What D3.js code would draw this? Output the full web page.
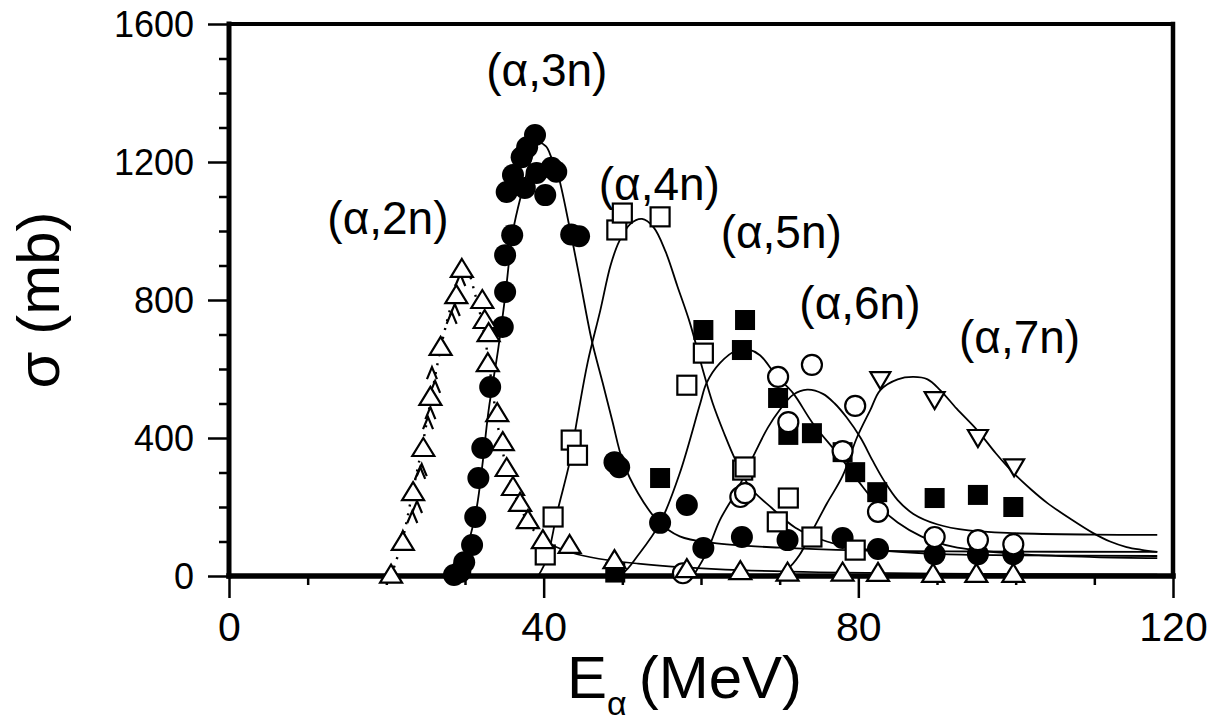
<!DOCTYPE html>
<html>
<head>
<meta charset="utf-8">
<script src="https://cdn.jsdelivr.net/npm/d3@7/dist/d3.min.js"></script>
<style>
  html, body { margin: 0; padding: 0; background: #fff; }
  svg { display: block; }
  text { font-family: "Liberation Sans", Arial, sans-serif; fill: #000; }
</style>
</head>
<body>
<svg id="chart" width="1217" height="727"></svg>
<script>
// Excitation functions for (α,xn) reactions: cross section σ (mb) vs alpha energy E (MeV)

// Measured points [E, σ] for each exit channel
const pts2n = [[20.6,4],[22.1,99],[23.4,243],[24.7,371],[25.6,519],[26.9,664],[28.9,814],[29.6,890],
  [32.2,800],[32.5,742],[33.0,704],[32.9,617],[34.1,472],[34.8,388],[35.3,313],[36.1,258],[37.0,212],
  [38.0,162],[39.9,104],[43.3,90],[49.0,46],[58.2,20],[65.0,14],[71.0,10],[78.0,10],[82.5,9],
  [89.5,6],[95.0,6],[99.7,6]];
// Second (α,2n) data set, small caret symbols on the rising edge
const pts2nSmall = [[29.4,858],[28.7,771],[28.3,748],[25.8,588],[26.2,548],[25.6,472],[25.3,443],
  [24.3,299],[24.5,307],[23.9,200],[23.3,171],[22.1,113]];
const pts3n = [[28.6,3],[29.4,12],[29.9,40],[30.9,90],[31.3,171],[31.7,284],[32.2,371],[33.2,548],
  [34.8,722],[35.1,823],[35.1,930],[36.0,988],[35.3,1113],[36.1,1162],[37.2,1214],[37.6,1125],
  [37.9,1243],[38.9,1278],[39.1,1168],[40.2,1104],[41.0,1183],[41.6,1172],[43.5,990],[44.5,985],
  [49.0,330],[49.6,315],[54.8,154],[58.2,206],[60.3,81],[65.2,113],[71.0,104],[78.0,110],
  [82.5,78],[89.7,63],[95.2,63],[99.7,63]];
const pts4n = [[40.2,61],[41.2,171],[43.5,394],[44.3,350],[49.3,1003],[50.0,1052],[54.8,1041],
  [58.2,553],[60.3,646],[65.3,307],[65.6,316],[69.7,157],[71.1,226],[74.1,113],[79.6,75]];
const pts5n = [[49.1,10],[54.8,284],[60.3,713],[65.6,742],[65.2,655],[69.8,516],[71.1,409],
  [74.1,414],[78.0,359],[79.6,301],[82.4,243],[89.7,226],[95.2,235],[99.7,200]];
const pts6n = [[57.7,8],[65.0,229],[65.6,240],[69.8,577],[71.1,446],[74.1,612],[78.0,362],
  [79.6,493],[82.5,186],[89.7,113],[95.2,104],[99.7,92]];
const pts7n = [[82.8,568],[89.7,510],[95.2,400],[99.8,315]];

// Calculated excitation functions [E, σ]
const calc2n = [[20.6,0],[22,100],[23.3,240],[24.6,380],[25.8,530],[27,670],[28.3,790],[29.4,875],
  [30.3,880],[31.3,815],[32.3,720],[33.2,590],[34,460],[34.8,360],[35.7,280],[36.7,215],[37.8,165],
  [39.2,120],[41,90],[43.5,68],[47,50],[52,36],[58,25],[65,17],[75,11],[90,7],[118,4]];
const calc3n = [[28.3,0],[29.5,30],[30.5,100],[31.5,200],[32.2,320],[33,480],[34.2,655],[35.1,809],
  [36.1,1000],[37.2,1110],[38.3,1200],[39.4,1255],[40.3,1245],[41,1212],[41.8,1165],[43.3,1010],
  [44.6,860],[46.1,684],[47.5,560],[48.7,452],[50.1,330],[52,240],[54.5,160],[57.3,115],
  [61.5,96],[70,82],[80,74],[95,71],[118,70]];
const calc4n = [[39.3,0],[40.4,50],[41.7,183],[43.3,330],[44.3,460],[45.6,620],[47.2,770],
  [48.5,900],[49.6,970],[51,1020],[52.5,1035],[54,1010],[55.5,940],[57,840],[58.6,733],
  [60.2,600],[61.5,500],[63,410],[64.3,340],[66.2,258],[69,197],[72,140],[76,100],[80,80],
  [90,64],[100,60],[118,58]];
const calc5n = [[48.5,0],[50.1,9],[52,60],[54.8,154],[57.3,298],[59.9,500],[60.7,559],[62.4,617],
  [64.6,655],[66,657],[67.5,640],[69.7,577],[71.7,530],[74.2,443],[77.7,345],[80,275],[82.5,205],
  [85,155],[88,115],[92,85],[100,64],[110,55],[118,52]];
const calc6n = [[59,0],[60.7,67],[62.4,162],[64.6,249],[66.9,359],[68.5,430],[70,481],[71.7,525],
  [73.5,540],[75.5,528],[77,500],[78.5,460],[80.3,400],[81.8,335],[83.3,275],[85,220],[87,180],
  [90,150],[94,132],[100,124],[110,120],[118,119]];
const calc7n = [[69.5,0],[71,20],[72.5,60],[74.2,133],[76,210],[78,290],[79.8,400],[81.5,480],
  [82.8,539],[85,570],[87,577],[88.8,570],[90.4,539],[92.5,485],[95.1,423],[97.5,355],[99.7,299],
  [102,250],[104,212],[107,165],[109.8,125],[112,100],[114.1,84],[116,76],[118,70]];

// Reaction labels and the [E, σ] point where each one starts
const reactionLabels = ["(α,2n)", "(α,3n)", "(α,4n)", "(α,5n)", "(α,6n)", "(α,7n)"];
const labelAnchors = [[12.5,990], [32.7,1420], [47.0,1090], [62.5,950], [72.5,745], [92.8,645]];

// Axis ticks
const xMajor = [0, 40, 80, 120];
const xMinor = [10, 20, 30, 50, 60, 70, 90, 100, 110];
const yMajor = [0, 400, 800, 1200, 1600];
const yMinor = [100, 200, 300, 500, 600, 700, 900, 1000, 1100, 1300, 1400, 1500];

const svg = d3.select("#chart");
const x = d3.scaleLinear().domain([0, 120]).range([229, 1173]);
const y = d3.scaleLinear().domain([0, 1600]).range([576, 24]);

// ---- axes ----
const styleAxis = size => g => {
  g.select(".domain").remove();
  g.selectAll(".tick line").attr("stroke", "#000").attr("stroke-width", 2.5);
  g.selectAll(".tick text").style("font-size", size).attr("fill", "#000");
};
svg.append("g").attr("transform", `translate(${x(0)},0)`)
  .call(d3.axisLeft(y).tickValues(yMinor).tickSize(10).tickFormat(""))
  .call(styleAxis("36px"));
svg.append("g").attr("transform", `translate(${x(0)},0)`)
  .call(d3.axisLeft(y).tickValues(yMajor).tickSize(21).tickPadding(14).tickFormat(d3.format("d")))
  .call(styleAxis("36px"))
  .call(g => g.selectAll(".tick text").attr("dy", "0.36em"));
svg.append("g").attr("transform", `translate(0,${y(0)})`)
  .call(d3.axisBottom(x).tickValues(xMinor).tickSize(9).tickFormat(""))
  .call(styleAxis("40px"));
svg.append("g").attr("transform", `translate(0,${y(0)})`)
  .call(d3.axisBottom(x).tickValues(xMajor).tickSize(22).tickPadding(14).tickFormat(d3.format("d")))
  .call(styleAxis("41px"));

// ---- frame ----
const frame = svg.append("g").attr("stroke", "#000").attr("stroke-linecap", "square");
frame.append("line").attr("x1", x(0)).attr("x2", x(120)).attr("y1", y(1600)).attr("y2", y(1600)).attr("stroke-width", 4);
frame.append("line").attr("x1", x(0)).attr("x2", x(0)).attr("y1", y(0)).attr("y2", y(1600)).attr("stroke-width", 5);
frame.append("line").attr("x1", x(120)).attr("x2", x(120)).attr("y1", y(0)).attr("y2", y(1600)).attr("stroke-width", 4.5);
frame.append("line").attr("x1", x(0)).attr("x2", x(120)).attr("y1", y(0)).attr("y2", y(0)).attr("stroke-width", 5.5);

// ---- calculated curves ----
const line = d3.line().x(d => x(d[0])).y(d => y(d[1])).curve(d3.curveCatmullRom.alpha(0.5));
const curves = svg.append("g").attr("fill", "none").attr("stroke", "#000");
curves.append("path").datum(calc2n.filter(d => d[0] <= 41))
  .attr("d", line).attr("stroke-width", 2.4).attr("stroke-dasharray", "2 7");
curves.append("path").datum(calc2n.filter(d => d[0] >= 41))
  .attr("d", line).attr("stroke-width", 1.6);
[calc3n, calc4n, calc5n, calc6n, calc7n].forEach(c => {
  curves.append("path").datum(c).attr("d", line).attr("stroke-width", 1.8);
});

// ---- measured points ----
const marks = svg.append("g");
const place = d => `translate(${x(d[0])},${y(d[1])})`;

marks.append("g").selectAll("path").data(pts2nSmall).join("path")
  .attr("transform", place).attr("d", "M-5,6L0,-6L5,6")
  .attr("fill", "none").attr("stroke", "#000").attr("stroke-width", 2.2);
marks.append("g").selectAll("circle").data(pts3n).join("circle")
  .attr("transform", place).attr("r", 11).attr("fill", "#000");
marks.append("g").selectAll("rect").data(pts5n).join("rect")
  .attr("transform", place).attr("x", -10).attr("y", -10).attr("width", 20).attr("height", 20)
  .attr("fill", "#000");
marks.append("g").selectAll("rect").data(pts4n).join("rect")
  .attr("transform", place).attr("x", -9.5).attr("y", -9.5).attr("width", 19).attr("height", 19)
  .attr("fill", "#fff").attr("stroke", "#000").attr("stroke-width", 2.2);
marks.append("g").selectAll("circle").data(pts6n).join("circle")
  .attr("transform", place).attr("r", 10).attr("fill", "#fff").attr("stroke", "#000").attr("stroke-width", 2.2);
marks.append("g").selectAll("path").data(pts7n).join("path")
  .attr("transform", place).attr("d", "M-10,-8L10,-8L0,9Z")
  .attr("fill", "#fff").attr("stroke", "#000").attr("stroke-width", 2.2).attr("stroke-linejoin", "miter");
marks.append("g").selectAll("path").data(pts2n).join("path")
  .attr("transform", place).attr("d", "M0,-10L11,8L-11,8Z")
  .attr("fill", "#fff").attr("stroke", "#000").attr("stroke-width", 2.2).attr("stroke-linejoin", "miter");

// ---- reaction labels ----
svg.append("g").selectAll("text").data(reactionLabels).join("text")
  .attr("x", (d, i) => x(labelAnchors[i][0]))
  .attr("y", (d, i) => y(labelAnchors[i][1]))
  .style("font-size", "46px")
  .text(d => d);

// ---- axis titles ----
const xt = svg.append("text").attr("x", 567).attr("y", 698).style("font-size", "60px");
xt.append("tspan").text("E");
xt.append("tspan").attr("dy", 17).style("font-size", "34px").text("α");
xt.append("tspan").attr("dy", -17).attr("dx", 12).text("(MeV)");

svg.append("text")
  .attr("transform", "translate(59,300) rotate(-90)")
  .attr("text-anchor", "middle")
  .style("font-size", "60px")
  .text("σ (mb)");
</script>
</body>
</html>
